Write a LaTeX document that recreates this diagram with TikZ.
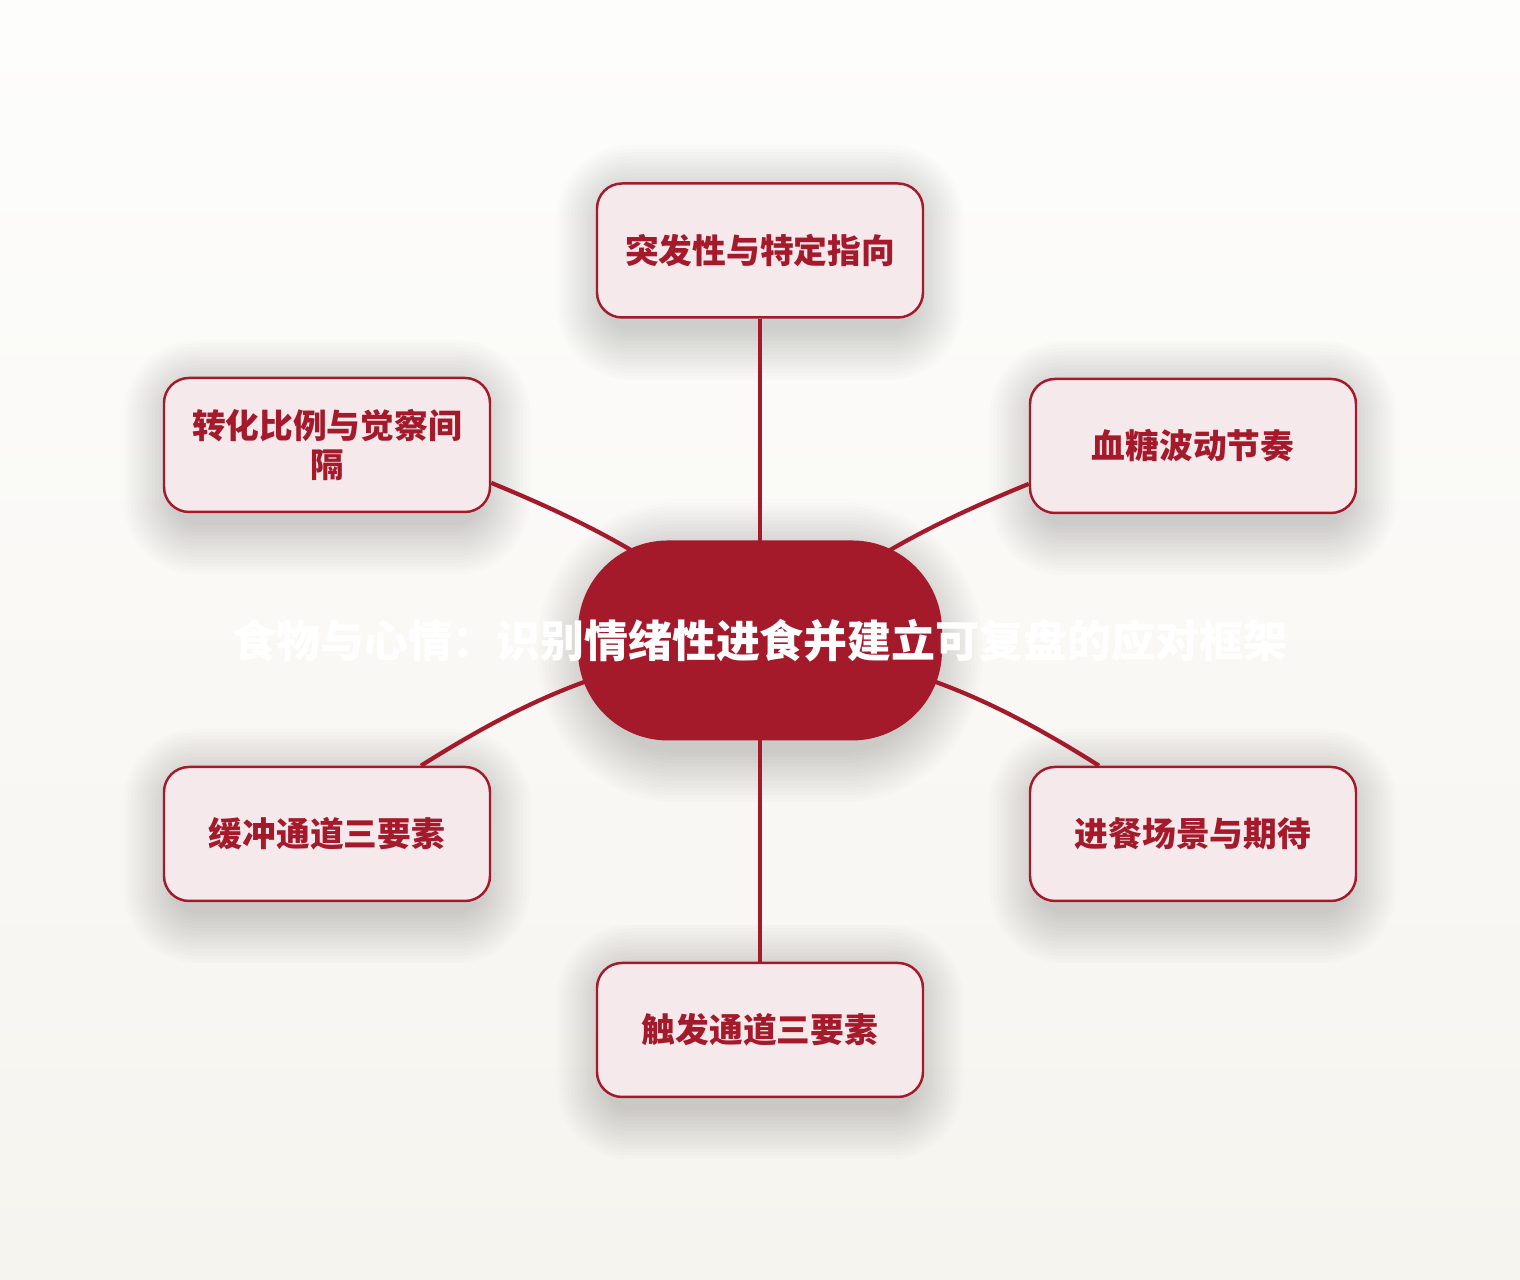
\documentclass[tikz,border=0pt]{standalone}
\usepackage{fontspec}
\setmainfont{Noto Sans CJK SC}
\usetikzlibrary{calc}
\definecolor{hubred}{HTML}{A51A2B}
\definecolor{leaffill}{HTML}{F5E9EC}
\definecolor{bgtop}{HTML}{FDFDFC}
\definecolor{bgbottom}{HTML}{F6F4EF}
\pgfdeclarelayer{background}
\pgfdeclarelayer{edges}
\pgfsetlayers{background,edges,main}

\begin{document}
\begin{tikzpicture}[
    leaf/.style={rectangle, rounded corners=0.25cm, draw=hubred, line width=0.7pt,
        fill=leaffill, minimum width=3.26cm, minimum height=1.34cm, align=center,
        text=hubred, font=\bfseries\fontsize{9.6}{11.2}\selectfont},
    hub/.style={rectangle, rounded corners=0.9cm, fill=hubred,
        minimum width=3.64cm, minimum height=2cm},
    title/.style={text=white, font=\bfseries\fontsize{12.5}{14}\selectfont},
    link/.style={draw=hubred, line width=1.2pt},
    haze/.style={fill=black, opacity=0.012}
]
    % Background
    \begin{pgfonlayer}{background}
        \shade [top color=bgtop, bottom color=bgbottom] (0,0) rectangle (15.2,12.8);
    \end{pgfonlayer}
    \useasboundingbox (0,0) rectangle (15.2,12.8);

    % Define nodes
    \node [hub] (hub) at (7.60,6.395) {};
    \node [title] (hubtext) at (hub.center) {食物与心情：识别情绪性进食并建立可复盘的应对框架};
    \node [leaf] (sudden) at (7.60,10.295) {突发性与特定指向};
    \node [leaf] (ratio) at (3.27,8.35) {转化比例与觉察间\\隔};
    \node [leaf] (sugar) at (11.93,8.34) {血糖波动节奏};
    \node [leaf] (buffer) at (3.27,4.46) {缓冲通道三要素};
    \node [leaf] (scene) at (11.93,4.46) {进餐场景与期待};
    \node [leaf] (trigger) at (7.60,2.50) {触发通道三要素};

    % Soft shadows
    \begin{pgfonlayer}{background}
        \foreach \n in {sudden,ratio,sugar,buffer,scene,trigger}
            \foreach \s in {0,...,14}
                \fill [haze, rounded corners=0.25cm+\s*0.035cm]
                    ($(\n.south west)+(-\s*0.035+0.1,-0.12-\s*0.035)$) rectangle
                    ($(\n.north east)+(\s*0.035-0.1,-0.12+\s*0.035)$);
        \foreach \s in {0,...,14}
            \fill [haze, rounded corners=0.9cm+\s*0.035cm]
                ($(hub.south west)+(-\s*0.035+0.1,-0.12-\s*0.035)$) rectangle
                ($(hub.north east)+(\s*0.035-0.1,-0.12+\s*0.035)$);
    \end{pgfonlayer}

    % Draw edges
    \begin{pgfonlayer}{edges}
        \draw [link] (sudden) -- (hub.center);
        \draw [link] (trigger) -- (hub.center);
        \draw [link] (ratio.-13.5) to[bend left=8] (hub.center);
        \draw [link] (sugar.193.5) to[bend right=8] (hub.center);
        \draw [link] (buffer.36) to[bend left=12] (hub.center);
        \draw [link] (scene.144) to[bend right=12] (hub.center);
    \end{pgfonlayer}
\end{tikzpicture}
\end{document}
